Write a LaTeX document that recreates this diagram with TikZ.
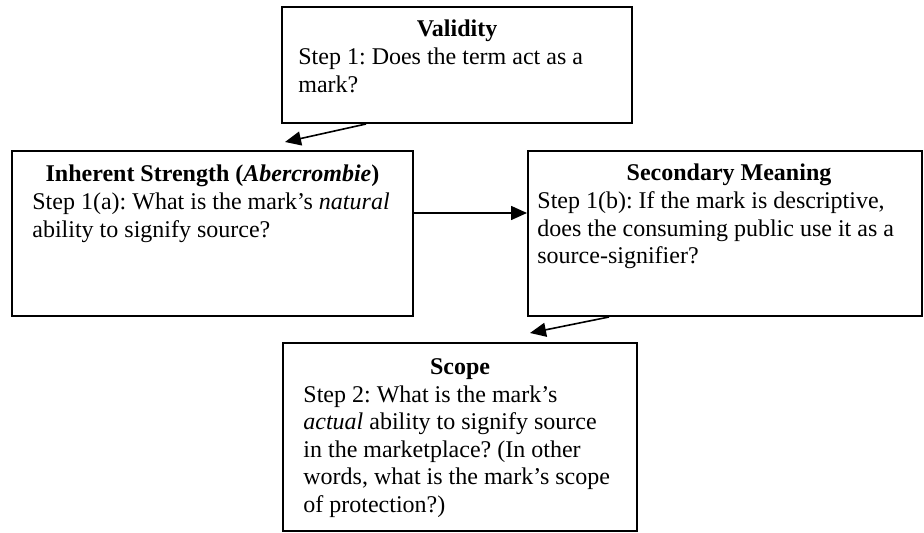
\documentclass[tikz,border=0pt]{standalone}
\usepackage{fontspec}
\setmainfont{Liberation Serif}
\usetikzlibrary{arrows.meta}
\frenchspacing
\begin{document}
\begin{tikzpicture}[x=0.5pt,y=-0.5pt,
  box/.style={draw,line width=1pt,inner sep=0pt},
  ttl/.style={font=\fontsize{12pt}{13.8pt}\selectfont\bfseries,inner sep=0pt,anchor=base},
  body/.style={font=\fontsize{12pt}{13.8pt}\selectfont,inner sep=0pt,anchor=base west,align=left},
  arr/.style={line width=0.8pt,-{Triangle[length=8pt,width=7pt]}}]
\useasboundingbox (0,0) rectangle (924,533);
% boxes
\node[box,minimum width=175pt,minimum height=58pt] (val) at (457,65) {};
\node[box,minimum width=200.5pt,minimum height=82.5pt] (inh) at (212.5,233.5) {};
\node[box,minimum width=197pt,minimum height=82.5pt] (sec) at (725,233.5) {};
\node[box,minimum width=177pt,minimum height=94pt] (sco) at (460,437) {};
% texts (body nodes are placed by the baseline of their last line)
\node[ttl] (valt) at (457,37) {Validity};
\node[body] (valb) at (298,92.2) {Step 1: Does the term act as a\\mark?};
\node[ttl] (inht) at (212.5,182) {Inherent Strength (\textit{Abercrombie})};
\node[body] (inhb) at (32,237.2) {Step 1(a): What is the mark’s \textit{natural}\\ability to signify source?};
\node[ttl] (sect) at (729,181) {Secondary Meaning};
\node[body] (secb) at (537,263.8) {Step 1(b): If the mark is descriptive,\\does the consuming public use it as a\\source-signifier?};
\node[ttl] (scot) at (460,374.5) {Scope};
\node[body] (scob) at (303,512.4) {Step 2: What is the mark’s\\\textit{actual} ability to signify source\\in the marketplace? (In other\\words, what is the mark’s scope\\of protection?)};
% connectors
\coordinate (t1) at (285,142);
\coordinate (t3) at (530,333);
\draw[arr] ([xshift=42.5pt]val.south west) -- (t1);
\draw[arr] ([yshift=10.25pt]inh.east) -- ([yshift=10.25pt]sec.west);
\draw[arr] ([xshift=41pt]sec.south west) -- (t3);
\end{tikzpicture}
\end{document}
